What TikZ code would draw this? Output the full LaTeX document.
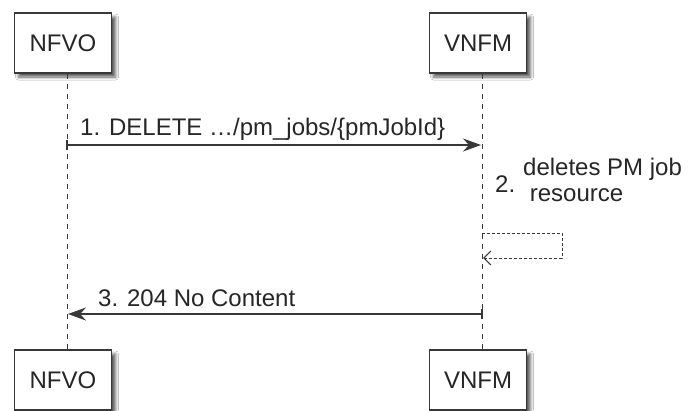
\documentclass[tikz,border=0pt]{standalone}
\usepackage{fontspec}
\setmainfont{Liberation Sans}
\usetikzlibrary{arrows.meta,shadows.blur}
\definecolor{ln}{HTML}{383838}
\tikzset{
  actor/.style={draw=ln, line width=1.6pt, fill=white, minimum width=97pt, minimum height=60pt,
    inner sep=0pt, font=\fontsize{24}{28}\selectfont, text=black!85,
    blur shadow={shadow xshift=4pt, shadow yshift=-4pt, shadow blur steps=6, shadow blur radius=3pt, shadow opacity=65}},
  lifeline/.style={draw=ln, line width=0.9pt, dash pattern=on 5pt off 5pt},
  msg/.style={draw=ln, line width=1.1pt, -{Stealth[length=18pt,width=13pt,inset=6pt]}},
  selfmsg/.style={draw=ln, line width=0.9pt, dash pattern=on 3pt off 2pt, -{Straight Barb[length=7pt,width=14pt,line width=1.1pt]}},
  lbl/.style={font=\fontsize{24}{26}\selectfont, text=black!85, inner sep=0pt}
}
\begin{document}
\begin{tikzpicture}[x=1pt,y=-1pt]
\useasboundingbox[fill=white] (0,0) rectangle (688,410);
% actors
\node[actor] (nfvoT) at (63,43) {NFVO};
\node[actor] (vnfmT) at (478,43) {VNFM};
\node[actor] (nfvoB) at (63,380) {NFVO};
\node[actor] (vnfmB) at (478,380) {VNFM};
% lifeline coordinates
\coordinate (nTop) at (67,74);
\coordinate (nBot) at (67,349);
\coordinate (vTop) at (482,74);
\coordinate (vBot) at (482,349);
\draw[lifeline] (nTop) -- (nBot);
\draw[lifeline] (vTop) -- (vBot);
% message 1
\coordinate (m1a) at (67,145);
\coordinate (m1b) at (481,145);
\draw[msg] (m1a) -- (m1b);
\draw[ln, line width=1.1pt] (67,140) -- (67,150);
\node[lbl, anchor=base west] (t1) at (80,135) {1. DELETE …/pm\_jobs/\{pmJobId\}};
% message 2 (self)
\coordinate (s0) at (482,233);
\coordinate (s1) at (562,233);
\coordinate (s2) at (562,258);
\coordinate (s3) at (483,258);
\draw[selfmsg] (s0) -- (s1) -- (s2) -- (s3);
\node[lbl, anchor=west] (t2n) at (495,184) {2.};
\node[lbl, anchor=north west, align=left] (t2) at (523,158) {deletes PM job\\\ resource};
% message 3
\coordinate (m3a) at (482,314);
\coordinate (m3b) at (68,314);
\draw[msg] (m3a) -- (m3b);
\draw[ln, line width=1.1pt] (482,309) -- (482,319);
\node[lbl, anchor=base west] (t3) at (98,306) {3. 204 No Content};
\end{tikzpicture}
\end{document}
